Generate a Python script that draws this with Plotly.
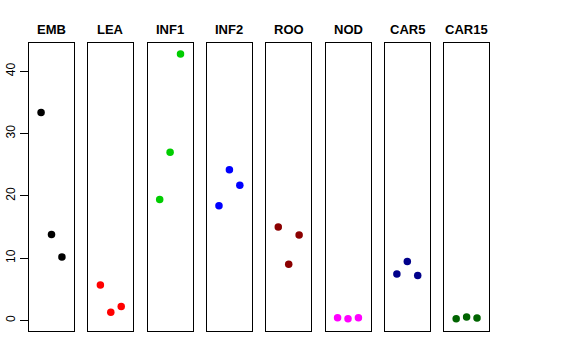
import plotly.graph_objects as go

categories = ["EMB", "LEA", "INF1", "INF2", "ROO", "NOD", "CAR5", "CAR15"]
values = {
    "EMB": [33.4, 13.8, 10.2],
    "LEA": [5.7, 1.33, 2.25],
    "INF1": [19.4, 27.0, 42.8],
    "INF2": [18.4, 24.2, 21.7],
    "ROO": [15.0, 9.0, 13.7],
    "NOD": [0.42, 0.26, 0.42],
    "CAR5": [7.44, 9.47, 7.23],
    "CAR15": [0.26, 0.53, 0.37],
}
colors = ["#000000", "#FF0000", "#00CD00", "#0000FF", "#8B0000", "#FF00FF", "#00008B", "#006400"]
y_ticks = [0, 10, 20, 30, 40]
replicates = [1, 2, 3]

W, H = 576, 360
fig = go.Figure()

left0 = 29.0
pw = 45.0
step = 59.3
ytop, ybot = 43.3, 331.0
ydom = [1 - ybot / H, 1 - ytop / H]

for i, cat in enumerate(categories):
    n = "" if i == 0 else str(i + 1)
    x0 = left0 + i * step
    xdom = [x0 / W, (x0 + pw) / W]
    fig.add_trace(go.Scatter(
        x=replicates, y=values[cat], mode="markers",
        marker=dict(color=colors[i], size=7.5, line=dict(width=0)),
        xaxis="x" + n, yaxis="y" + n, showlegend=False, hoverinfo="skip",
    ))
    fig.layout["xaxis" + n] = dict(
        domain=xdom, range=[-0.16, 4.16], showgrid=False, zeroline=False,
        showticklabels=False, ticks="", showline=True, mirror=True,
        linecolor="#000000", linewidth=1, anchor="y" + n, fixedrange=True,
        automargin=False,
    )
    yax = dict(
        domain=ydom, range=[-1.7, 44.5], showgrid=False, zeroline=False,
        showline=True, mirror=True, linecolor="#000000", linewidth=1,
        anchor="x" + n, fixedrange=True, automargin=False,
    )
    if i == 0:
        yax.update(tickvals=y_ticks, ticktext=[str(t) for t in y_ticks],
                   ticks="outside", ticklen=8, tickwidth=1, tickcolor="#000000",
                   tickangle=-90, tickfont=dict(family="Liberation Sans, Arial", size=12, color="#000000"))
    else:
        yax.update(showticklabels=False, ticks="")
    fig.layout["yaxis" + n] = yax
    fig.add_annotation(
        text="<b>" + cat + "</b>", x=(x0 + pw / 2) / W, y=1 - 29.5 / H,
        xref="paper", yref="paper", showarrow=False, xanchor="center", yanchor="middle",
        font=dict(family="Liberation Sans, Arial", size=13, color="#000000"),
    )

fig.update_layout(
    width=W, height=H, margin=dict(l=0, r=0, t=0, b=0, autoexpand=False),
    paper_bgcolor="white", plot_bgcolor="white",
)
fig.write_html("out.html", config={"displayModeBar": False},
               post_script="document.body.style.margin='0';")
